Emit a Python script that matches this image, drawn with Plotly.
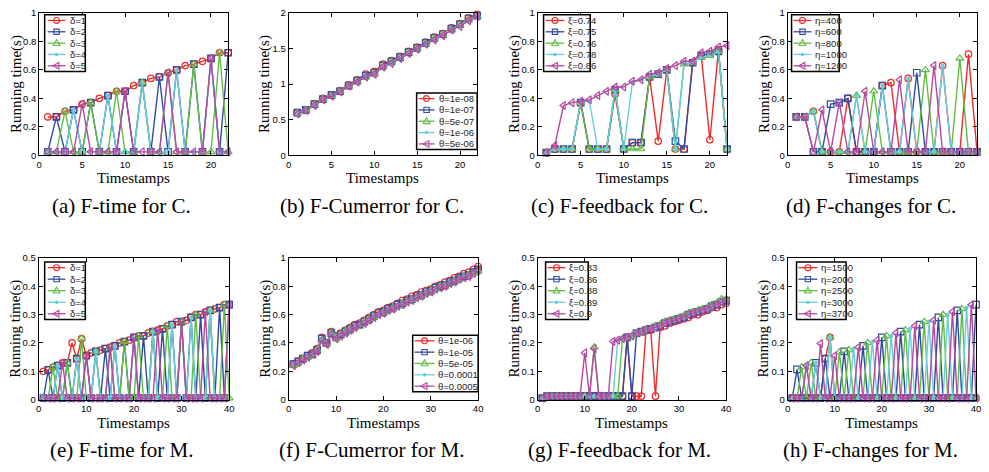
import plotly.graph_objects as go

W, H = 989, 472

# ---------------------------------------------------------------- data
t_c = list(range(1, 23))
t_m = list(range(1, 41))

# (a) F-time for C.
a_d1 = [0.27, 0.27, 0.31, 0.32, 0.36, 0.37, 0.40, 0.42, 0.45, 0.45, 0.49, 0.51, 0.54, 0.55, 0.58, 0.60, 0.63, 0.64, 0.66, 0.68, 0.72, 0.72]
a_d2 = [0.025, 0.27, 0.025, 0.32, 0.025, 0.37, 0.025, 0.42, 0.025, 0.45, 0.025, 0.51, 0.025, 0.55, 0.025, 0.60, 0.025, 0.64, 0.025, 0.68, 0.025, 0.72]
a_d3 = [0.025, 0.025, 0.31, 0.025, 0.025, 0.37, 0.025, 0.025, 0.45, 0.025, 0.025, 0.51, 0.025, 0.025, 0.58, 0.025, 0.025, 0.64, 0.025, 0.025, 0.72, 0.025]
a_d4 = [0.025, 0.025, 0.025, 0.32, 0.025, 0.025, 0.025, 0.42, 0.025, 0.025, 0.025, 0.51, 0.025, 0.025, 0.025, 0.60, 0.025, 0.025, 0.025, 0.68, 0.025, 0.025]
a_d5 = [0.025, 0.025, 0.025, 0.025, 0.36, 0.025, 0.025, 0.025, 0.025, 0.45, 0.025, 0.025, 0.025, 0.025, 0.58, 0.025, 0.025, 0.025, 0.025, 0.68, 0.025, 0.025]

# (b) F-Cumerror for C.
b_t1 = [0.60, 0.64, 0.72, 0.80, 0.85, 0.91, 0.99, 1.06, 1.14, 1.18, 1.28, 1.33, 1.39, 1.46, 1.52, 1.59, 1.66, 1.71, 1.79, 1.85, 1.93, 1.98]
b_t2 = [0.60, 0.64, 0.72, 0.79, 0.85, 0.90, 0.98, 1.05, 1.12, 1.16, 1.26, 1.32, 1.38, 1.45, 1.51, 1.58, 1.65, 1.70, 1.78, 1.84, 1.92, 1.96]
b_t3 = [0.59, 0.64, 0.71, 0.79, 0.84, 0.90, 0.98, 1.04, 1.11, 1.15, 1.25, 1.31, 1.37, 1.44, 1.50, 1.57, 1.64, 1.69, 1.77, 1.83, 1.91, 1.96]
b_t4 = [0.59, 0.63, 0.71, 0.78, 0.84, 0.89, 0.97, 1.04, 1.11, 1.15, 1.25, 1.30, 1.37, 1.44, 1.50, 1.56, 1.63, 1.69, 1.77, 1.82, 1.90, 1.95]
b_t5 = [0.58, 0.63, 0.70, 0.78, 0.83, 0.89, 0.97, 1.03, 1.10, 1.14, 1.24, 1.29, 1.36, 1.43, 1.49, 1.56, 1.62, 1.68, 1.76, 1.81, 1.89, 1.95]

# (c) F-feedback for C.
c_x1 = [0.02, 0.045, 0.045, 0.045, 0.37, 0.045, 0.045, 0.045, 0.43, 0.045, 0.09, 0.09, 0.55, 0.10, 0.60, 0.045, 0.045, 0.65, 0.70, 0.11, 0.74, 0.045]
c_x2 = [0.02, 0.045, 0.045, 0.045, 0.37, 0.045, 0.045, 0.045, 0.46, 0.045, 0.09, 0.09, 0.55, 0.57, 0.60, 0.10, 0.045, 0.65, 0.70, 0.71, 0.73, 0.045]
c_x3 = [0.02, 0.045, 0.045, 0.045, 0.37, 0.045, 0.045, 0.045, 0.46, 0.045, 0.045, 0.045, 0.55, 0.57, 0.60, 0.045, 0.64, 0.65, 0.69, 0.70, 0.73, 0.045]
c_x4 = [0.02, 0.045, 0.045, 0.045, 0.38, 0.38, 0.045, 0.045, 0.47, 0.045, 0.51, 0.53, 0.56, 0.57, 0.60, 0.045, 0.64, 0.65, 0.69, 0.70, 0.73, 0.045]
c_x5 = [0.02, 0.07, 0.35, 0.37, 0.38, 0.39, 0.42, 0.45, 0.48, 0.48, 0.52, 0.53, 0.57, 0.58, 0.61, 0.63, 0.66, 0.66, 0.72, 0.73, 0.76, 0.77]

# (d) F-changes for C.
d_e1 = [0.27, 0.27, 0.31, 0.025, 0.025, 0.025, 0.40, 0.025, 0.025, 0.025, 0.49, 0.51, 0.025, 0.54, 0.025, 0.025, 0.025, 0.63, 0.025, 0.025, 0.71, 0.025]
d_e2 = [0.27, 0.27, 0.025, 0.025, 0.36, 0.37, 0.40, 0.025, 0.025, 0.025, 0.49, 0.025, 0.025, 0.025, 0.58, 0.025, 0.025, 0.025, 0.025, 0.025, 0.025, 0.025]
d_e3 = [0.27, 0.27, 0.31, 0.025, 0.025, 0.025, 0.025, 0.42, 0.025, 0.45, 0.025, 0.025, 0.025, 0.025, 0.025, 0.60, 0.025, 0.025, 0.025, 0.68, 0.025, 0.025]
d_e4 = [0.27, 0.27, 0.31, 0.025, 0.025, 0.025, 0.025, 0.42, 0.025, 0.025, 0.49, 0.025, 0.025, 0.54, 0.025, 0.025, 0.025, 0.63, 0.025, 0.025, 0.025, 0.025]
d_e5 = [0.27, 0.27, 0.025, 0.32, 0.025, 0.37, 0.025, 0.025, 0.45, 0.025, 0.025, 0.025, 0.53, 0.025, 0.025, 0.025, 0.63, 0.025, 0.025, 0.025, 0.025, 0.025]

# (e) F-time for M.
e_d1 = [0.10, 0.105, 0.115, 0.12, 0.13, 0.13, 0.20, 0.145, 0.215, 0.155, 0.165, 0.17, 0.175, 0.18, 0.185, 0.19, 0.20, 0.205, 0.21, 0.22,
        0.225, 0.225, 0.235, 0.24, 0.245, 0.25, 0.26, 0.265, 0.275, 0.275, 0.28, 0.29, 0.30, 0.30, 0.31, 0.315, 0.32, 0.325, 0.335, 0.335]
e_d2 = [0.005, 0.105, 0.005, 0.12, 0.005, 0.13, 0.005, 0.145, 0.005, 0.155, 0.005, 0.17, 0.005, 0.18, 0.005, 0.19, 0.005, 0.205, 0.005, 0.22,
        0.005, 0.225, 0.005, 0.24, 0.005, 0.25, 0.005, 0.265, 0.005, 0.275, 0.005, 0.29, 0.005, 0.30, 0.005, 0.315, 0.005, 0.325, 0.005, 0.335]
e_d3 = [0.005, 0.005, 0.115, 0.005, 0.005, 0.13, 0.005, 0.005, 0.215, 0.005, 0.005, 0.17, 0.005, 0.005, 0.185, 0.005, 0.005, 0.205, 0.005, 0.005,
        0.225, 0.005, 0.005, 0.24, 0.005, 0.005, 0.26, 0.005, 0.005, 0.275, 0.005, 0.005, 0.30, 0.005, 0.005, 0.315, 0.005, 0.005, 0.335, 0.005]
e_d4 = [0.005, 0.005, 0.005, 0.12, 0.005, 0.005, 0.005, 0.145, 0.005, 0.005, 0.005, 0.17, 0.005, 0.005, 0.005, 0.19, 0.005, 0.005, 0.005, 0.22,
        0.005, 0.005, 0.005, 0.24, 0.005, 0.005, 0.005, 0.265, 0.005, 0.005, 0.005, 0.29, 0.005, 0.005, 0.005, 0.315, 0.005, 0.005, 0.005, 0.335]
e_d5 = [0.005, 0.005, 0.005, 0.005, 0.13, 0.005, 0.005, 0.005, 0.005, 0.155, 0.005, 0.005, 0.005, 0.005, 0.185, 0.005, 0.005, 0.005, 0.005, 0.22,
        0.005, 0.005, 0.005, 0.005, 0.245, 0.005, 0.005, 0.005, 0.005, 0.275, 0.005, 0.005, 0.005, 0.005, 0.31, 0.005, 0.005, 0.005, 0.005, 0.335]

# (f) F-Cumerror for M.
f_t1 = [0.25, 0.27, 0.29, 0.31, 0.33, 0.36, 0.44, 0.40, 0.48, 0.45, 0.47, 0.49, 0.51, 0.53, 0.54, 0.56, 0.58, 0.60, 0.62, 0.63,
        0.65, 0.66, 0.68, 0.70, 0.71, 0.73, 0.74, 0.76, 0.77, 0.78, 0.80, 0.81, 0.83, 0.84, 0.86, 0.87, 0.89, 0.90, 0.92, 0.94]
f_t2 = [0.25, 0.27, 0.29, 0.31, 0.32, 0.35, 0.43, 0.40, 0.47, 0.44, 0.46, 0.48, 0.50, 0.52, 0.53, 0.55, 0.57, 0.59, 0.61, 0.62,
        0.64, 0.65, 0.67, 0.68, 0.70, 0.71, 0.73, 0.74, 0.76, 0.77, 0.79, 0.80, 0.81, 0.83, 0.84, 0.86, 0.87, 0.88, 0.90, 0.92]
f_t3 = [0.24, 0.26, 0.29, 0.30, 0.32, 0.35, 0.42, 0.39, 0.47, 0.43, 0.46, 0.48, 0.50, 0.51, 0.53, 0.55, 0.57, 0.58, 0.60, 0.62,
        0.63, 0.65, 0.66, 0.68, 0.69, 0.71, 0.72, 0.74, 0.75, 0.77, 0.78, 0.80, 0.81, 0.82, 0.84, 0.85, 0.87, 0.88, 0.89, 0.91]
f_t4 = [0.25, 0.26, 0.29, 0.31, 0.32, 0.35, 0.43, 0.40, 0.47, 0.44, 0.46, 0.48, 0.50, 0.52, 0.53, 0.55, 0.57, 0.59, 0.60, 0.62,
        0.64, 0.65, 0.67, 0.68, 0.70, 0.71, 0.73, 0.74, 0.76, 0.77, 0.78, 0.80, 0.81, 0.83, 0.84, 0.85, 0.87, 0.88, 0.90, 0.91]
f_t5 = [0.24, 0.26, 0.28, 0.30, 0.32, 0.34, 0.42, 0.39, 0.46, 0.43, 0.45, 0.47, 0.49, 0.51, 0.53, 0.54, 0.56, 0.58, 0.60, 0.61,
        0.63, 0.64, 0.66, 0.67, 0.69, 0.70, 0.72, 0.73, 0.75, 0.76, 0.78, 0.79, 0.80, 0.82, 0.83, 0.85, 0.86, 0.87, 0.89, 0.91]

# (g) F-feedback for M.
g_x1 = [0.005, 0.012, 0.012, 0.012, 0.012, 0.012, 0.012, 0.012, 0.012, 0.012, 0.012, 0.012, 0.012, 0.012, 0.012, 0.012, 0.012, 0.012, 0.22, 0.012,
        0.012, 0.012, 0.245, 0.245, 0.012, 0.255, 0.26, 0.27, 0.275, 0.28, 0.285, 0.29, 0.30, 0.30, 0.31, 0.315, 0.325, 0.325, 0.335, 0.34]
g_x2 = [0.005, 0.012, 0.012, 0.012, 0.012, 0.012, 0.012, 0.012, 0.012, 0.012, 0.012, 0.012, 0.012, 0.012, 0.012, 0.012, 0.012, 0.012, 0.22, 0.012,
        0.235, 0.24, 0.245, 0.25, 0.255, 0.26, 0.27, 0.275, 0.28, 0.285, 0.29, 0.30, 0.305, 0.31, 0.315, 0.32, 0.33, 0.335, 0.345, 0.35]
g_x3 = [0.005, 0.012, 0.012, 0.012, 0.012, 0.012, 0.012, 0.012, 0.012, 0.012, 0.012, 0.185, 0.012, 0.012, 0.012, 0.012, 0.012, 0.215, 0.22, 0.225,
        0.235, 0.24, 0.25, 0.25, 0.26, 0.265, 0.275, 0.28, 0.285, 0.29, 0.295, 0.305, 0.31, 0.315, 0.32, 0.325, 0.335, 0.34, 0.355, 0.355]
g_x4 = [0.005, 0.012, 0.012, 0.012, 0.012, 0.012, 0.012, 0.012, 0.012, 0.012, 0.012, 0.012, 0.012, 0.012, 0.012, 0.012, 0.21, 0.215, 0.22, 0.225,
        0.235, 0.24, 0.245, 0.25, 0.255, 0.26, 0.27, 0.275, 0.28, 0.285, 0.29, 0.30, 0.305, 0.31, 0.315, 0.32, 0.33, 0.335, 0.345, 0.35]
g_x5 = [0.005, 0.012, 0.012, 0.012, 0.012, 0.012, 0.012, 0.012, 0.012, 0.165, 0.012, 0.18, 0.012, 0.012, 0.012, 0.205, 0.21, 0.215, 0.22, 0.225,
        0.235, 0.24, 0.245, 0.25, 0.255, 0.26, 0.27, 0.275, 0.28, 0.285, 0.29, 0.30, 0.305, 0.31, 0.315, 0.32, 0.33, 0.335, 0.345, 0.35]

# (h) F-changes for M.
h_e1 = [0.005, 0.005, 0.005, 0.005, 0.005, 0.005, 0.005, 0.145, 0.22, 0.005, 0.005, 0.005, 0.005, 0.005, 0.005, 0.005, 0.005, 0.005, 0.005, 0.005,
        0.005, 0.005, 0.005, 0.005, 0.005, 0.005, 0.005, 0.005, 0.005, 0.005, 0.005, 0.005, 0.005, 0.005, 0.005, 0.005, 0.005, 0.005, 0.005, 0.005]
h_e2 = [0.005, 0.107, 0.005, 0.005, 0.005, 0.13, 0.005, 0.145, 0.005, 0.005, 0.005, 0.17, 0.005, 0.005, 0.005, 0.19, 0.005, 0.005, 0.005, 0.22,
        0.005, 0.005, 0.005, 0.24, 0.005, 0.005, 0.005, 0.265, 0.005, 0.005, 0.005, 0.29, 0.005, 0.005, 0.005, 0.315, 0.005, 0.005, 0.005, 0.335]
h_e3 = [0.005, 0.005, 0.115, 0.005, 0.13, 0.005, 0.005, 0.005, 0.22, 0.005, 0.168, 0.005, 0.175, 0.005, 0.005, 0.005, 0.20, 0.005, 0.005, 0.005,
        0.225, 0.005, 0.005, 0.005, 0.245, 0.005, 0.005, 0.005, 0.275, 0.005, 0.005, 0.005, 0.30, 0.005, 0.005, 0.005, 0.32, 0.005, 0.005, 0.005]
h_e4 = [0.005, 0.005, 0.005, 0.12, 0.005, 0.13, 0.005, 0.005, 0.22, 0.005, 0.005, 0.005, 0.005, 0.18, 0.005, 0.005, 0.005, 0.205, 0.005, 0.005,
        0.005, 0.225, 0.005, 0.005, 0.005, 0.25, 0.005, 0.005, 0.005, 0.275, 0.005, 0.005, 0.005, 0.30, 0.005, 0.005, 0.005, 0.325, 0.005, 0.005]
h_e5 = [0.005, 0.005, 0.005, 0.12, 0.005, 0.005, 0.198, 0.005, 0.005, 0.155, 0.005, 0.005, 0.005, 0.005, 0.185, 0.005, 0.005, 0.005, 0.21, 0.005,
        0.005, 0.005, 0.235, 0.005, 0.005, 0.005, 0.26, 0.005, 0.005, 0.005, 0.28, 0.005, 0.005, 0.005, 0.31, 0.005, 0.005, 0.005, 0.335, 0.005]

names_delta = ["δ=1", "δ=2", "δ=3", "δ=4", "δ=5"]
names_theta_c = ["θ=1e-08", "θ=1e-07", "θ=5e-07", "θ=1e-06", "θ=5e-06"]
names_xi_c = ["ξ=0.74", "ξ=0.75", "ξ=0.76", "ξ=0.78", "ξ=0.86"]
names_eta_c = ["η=400", "η=600", "η=800", "η=1000", "η=1200"]
names_theta_m = ["θ=1e-06", "θ=1e-05", "θ=5e-05", "θ=0.0001", "θ=0.0005"]
names_xi_m = ["ξ=0.83", "ξ=0.86", "ξ=0.88", "ξ=0.89", "ξ=0.9"]
names_eta_m = ["η=1500", "η=2000", "η=2500", "η=3000", "η=3700"]

captions = ["(a) F-time for C.", "(b) F-Cumerror for C.", "(c) F-feedback for C.", "(d) F-changes for C.",
            "(e) F-time for M.", "(f) F-Cumerror for M.", "(g) F-feedback for M.", "(h) F-changes for M."]

# ---------------------------------------------------------------- style
colors = ["#ee2a2a", "#2f4b9e", "#62bd45", "#66cde0", "#b5479f"]
symbols = ["circle-open", "square-open", "triangle-up-open", "circle", "triangle-left-open"]
msizes = [6.5, 6.5, 7, 3, 7]
SERIF = "Liberation Serif, Times New Roman, serif"
SANS = "Liberation Sans, Arial, sans-serif"


def px(x):
    return x / W


def py(y):
    return 1 - y / H


# per panel: x data, series, names, x pixel span, y pixel span, ranges, legend box, y-title x
panels = [
    dict(t=t_c, ys=[a_d1, a_d2, a_d3, a_d4, a_d5], names=names_delta, xs=(36.5, 227), yspan=(7, 153),
         xr=[0, 22], yr=[0, 1], dx=5, dy=0.2, leg=(42, 9, 83, 67, 45, 63, 66), ytx=13),
    dict(t=t_c, ys=[b_t1, b_t2, b_t3, b_t4, b_t5], names=names_theta_c, xs=(288, 478), yspan=(7, 153),
         xr=[0, 22], yr=[0, 2], dx=5, dy=0.5, leg=(417, 89, 478, 147, 419, 435, 438), ytx=263),
    dict(t=t_c, ys=[c_x1, c_x2, c_x3, c_x4, c_x5], names=names_xi_c, xs=(539, 730), yspan=(7, 153),
         xr=[0, 22], yr=[0, 1], dx=5, dy=0.2, leg=(545, 9, 592, 67, 547, 566, 568), ytx=515),
    dict(t=t_c, ys=[d_e1, d_e2, d_e3, d_e4, d_e5], names=names_eta_c, xs=(791, 982), yspan=(7, 153),
         xr=[0, 22], yr=[0, 1], dx=5, dy=0.2, leg=(795, 9, 843, 67, 797, 815, 817), ytx=767),
    dict(t=t_m, ys=[e_d1, e_d2, e_d3, e_d4, e_d5], names=names_delta, xs=(36, 228), yspan=(258, 403),
         xr=[0, 40], yr=[0, 0.5], dx=10, dy=0.1, leg=(42, 262, 83, 321, 45, 63, 66), ytx=13),
    dict(t=t_m, ys=[f_t1, f_t2, f_t3, f_t4, f_t5], names=names_theta_m, xs=(288, 479), yspan=(258, 403),
         xr=[0, 40], yr=[0, 1], dx=10, dy=0.2, leg=(413, 337, 479, 395, 415, 435, 437), ytx=265),
    dict(t=t_m, ys=[g_x1, g_x2, g_x3, g_x4, g_x5], names=names_xi_m, xs=(539, 729), yspan=(258, 403),
         xr=[0, 40], yr=[0, 0.5], dx=10, dy=0.1, leg=(547, 262, 590, 321, 549, 567, 569), ytx=516),
    dict(t=t_m, ys=[h_e1, h_e2, h_e3, h_e4, h_e5], names=names_eta_m, xs=(791, 981), yspan=(258, 403),
         xr=[0, 40], yr=[0, 0.5], dx=10, dy=0.1, leg=(800, 262, 850, 321, 802, 821, 823), ytx=767),
]

fig = go.Figure()
layout = dict(width=W, height=H, margin=dict(l=0, r=0, t=0, b=0), paper_bgcolor="white",
              plot_bgcolor="white", showlegend=False)
shapes = []
annotations = []

for k, p in enumerate(panels):
    n = k + 1
    xa = "x" if n == 1 else f"x{n}"
    ya = "y" if n == 1 else f"y{n}"
    for i, ys in enumerate(p["ys"]):
        fig.add_trace(go.Scatter(
            x=p["t"], y=ys, mode="lines+markers", name=p["names"][i], xaxis=xa, yaxis=ya,
            line=dict(color=colors[i], width=1.4),
            marker=dict(symbol=symbols[i], size=msizes[i], color=colors[i], line=dict(width=1.2, color=colors[i])),
            cliponaxis=False, showlegend=False))

    y_top, y_bot = p["yspan"]
    axis_common = dict(showgrid=False, zeroline=False, showline=True, linecolor="black", linewidth=1,
                       mirror="ticks", ticks="inside", ticklen=4, tickwidth=1, tickcolor="black",
                       tickfont=dict(family=SANS, size=9.5, color="black"), fixedrange=True)
    layout["xaxis" if n == 1 else f"xaxis{n}"] = dict(
        axis_common, domain=[px(p["xs"][0]), px(p["xs"][1])], range=p["xr"], anchor=ya,
        tick0=0, dtick=p["dx"])
    layout["yaxis" if n == 1 else f"yaxis{n}"] = dict(
        axis_common, domain=[py(y_bot), py(y_top)], range=p["yr"], anchor=xa,
        tick0=0, dtick=p["dy"])

    # axis titles and caption
    xc = (p["xs"][0] + p["xs"][1]) / 2
    row_top = y_top < 100
    annotations.append(dict(text="Running time(s)", x=px(p["ytx"]), y=py((y_top + y_bot) / 2), xref="paper",
                            yref="paper", textangle=-90, showarrow=False, xanchor="center", yanchor="middle",
                            font=dict(family=SERIF, size=15, color="black")))
    annotations.append(dict(text="Timestamps", x=px(xc), y=py(176 if row_top else 427), xref="paper",
                            yref="paper", showarrow=False, xanchor="center", yanchor="middle",
                            font=dict(family=SERIF, size=15, color="black")))
    cap_x = [119, 372, 622, 875][k % 4]
    annotations.append(dict(text=captions[k], x=px(cap_x), y=py(205 if row_top else 455), xref="paper",
                            yref="paper", showarrow=False, xanchor="center", yanchor="middle",
                            font=dict(family=SERIF, size=21, color="black")))

    # boxed legend
    bx0, by0, bx1, by1, lx0, lx1, tx = p["leg"]
    shapes.append(dict(type="rect", xref="paper", yref="paper", x0=px(bx0), x1=px(bx1), y0=py(by1), y1=py(by0),
                       line=dict(color="black", width=1.5), fillcolor="white", layer="above"))
    step = (by1 - by0) / 5
    for i, name in enumerate(p["names"]):
        yc = by0 + step * (i + 0.5)
        xm = (lx0 + lx1) / 2
        shapes.append(dict(type="line", xref="paper", yref="paper", x0=px(lx0), x1=px(lx1), y0=py(yc), y1=py(yc),
                           line=dict(color=colors[i], width=1.3), layer="above"))
        mk = dict(xref="paper", yref="paper", line=dict(color=colors[i], width=1.1), layer="above")
        if i == 0:
            shapes.append(dict(mk, type="circle", x0=px(xm - 3), x1=px(xm + 3), y0=py(yc + 3), y1=py(yc - 3)))
        elif i == 1:
            shapes.append(dict(mk, type="rect", x0=px(xm - 2.7), x1=px(xm + 2.7), y0=py(yc + 2.7), y1=py(yc - 2.7)))
        elif i == 2:
            path = (f"M{px(xm)},{py(yc - 3.6)} L{px(xm + 3.4)},{py(yc + 2.4)} "
                    f"L{px(xm - 3.4)},{py(yc + 2.4)} Z")
            shapes.append(dict(mk, type="path", path=path))
        elif i == 3:
            shapes.append(dict(mk, type="circle", x0=px(xm - 1.2), x1=px(xm + 1.2), y0=py(yc + 1.2),
                               y1=py(yc - 1.2), fillcolor=colors[i]))
        else:
            path = (f"M{px(xm - 3.6)},{py(yc)} L{px(xm + 2.4)},{py(yc - 3.4)} "
                    f"L{px(xm + 2.4)},{py(yc + 3.4)} Z")
            shapes.append(dict(mk, type="path", path=path))
        annotations.append(dict(text=name, x=px(tx), y=py(yc), xref="paper", yref="paper", showarrow=False,
                                xanchor="left", yanchor="middle",
                                font=dict(family=SANS, size=9.5, color="#222222")))

layout["shapes"] = shapes
layout["annotations"] = annotations
fig.update_layout(**layout)
fig.write_html("out.html")
